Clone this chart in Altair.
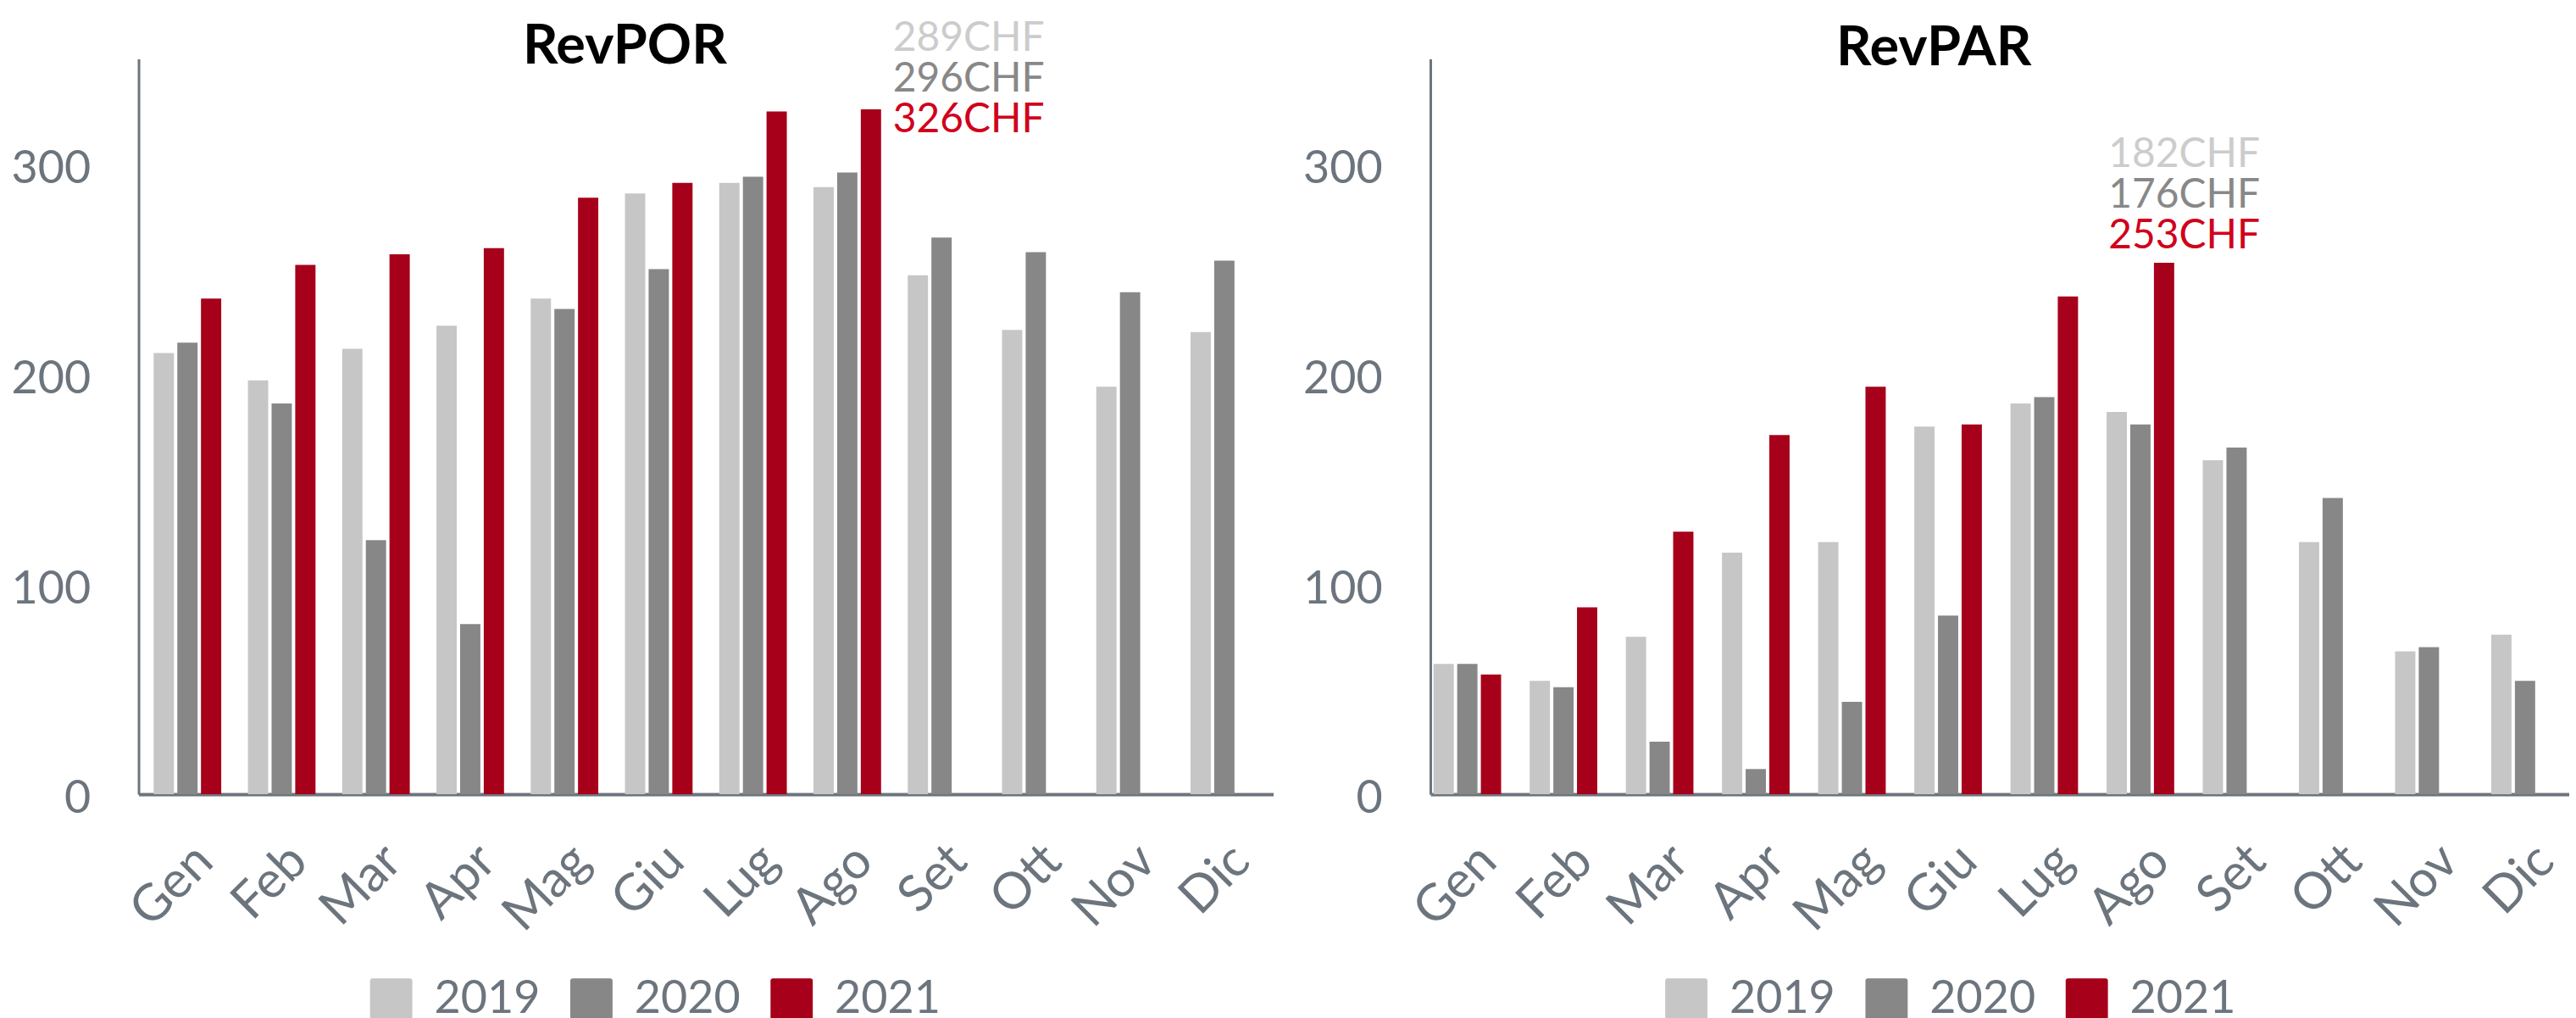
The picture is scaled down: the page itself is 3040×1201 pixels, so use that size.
import altair as alt
import pandas as pd

months = ["Gen", "Feb", "Mar", "Apr", "Mag", "Giu", "Lug", "Ago", "Set", "Ott", "Nov", "Dic"]
years = ["2019", "2020", "2021"]

revpor_2019 = [210, 197, 212, 223, 236, 286, 291, 289, 247, 221, 194, 220]
revpor_2020 = [215, 186, 121, 81, 231, 250, 294, 296, 265, 258, 239, 254]
revpor_2021 = [236, 252, 257, 260, 284, 291, 325, 326, None, None, None, None]

revpar_2019 = [62, 54, 75, 115, 120, 175, 186, 182, 159, 120, 68, 76]
revpar_2020 = [62, 51, 25, 12, 44, 85, 189, 176, 165, 141, 70, 54]
revpar_2021 = [57, 89, 125, 171, 194, 176, 237, 253, None, None, None, None]

y_ticks = [0, 100, 200, 300]
bar_colors = ["#c6c6c6", "#878787", "#a6001a"]
note_colors = ["#cccccc", "#888888", "#d0021b"]
AX = "#6c757d"
FONT = "Lato"
ROUNDED = ("M-0.88,-1H0.88Q1,-1 1,-0.88V0.88Q1,1 0.88,1H-0.88Q-1,1 -1,0.88"
           "V-0.88Q-1,-1 -0.88,-1Z")


def panel(title, series, width, pad_inner, pad_outer, off_pad, title_dx, title_offset,
          note_dx, note_dy0, legend_x):
    rows = []
    for yr, vals in zip(years, series):
        for m, v in zip(months, vals):
            if v is not None:
                rows.append({"month": m, "year": yr, "value": v})
    df = pd.DataFrame(rows)

    x = alt.X("month:N", sort=months, title=None,
              scale=alt.Scale(paddingInner=pad_inner, paddingOuter=pad_outer),
              axis=alt.Axis(labelAngle=-45, labelFont=FONT, labelFontSize=60,
                            labelColor=AX, labelPadding=49, ticks=False,
                            domainColor=AX, domainWidth=4, grid=False))
    y = alt.Y("value:Q", title=None,
              scale=alt.Scale(domain=[0, 350], nice=False),
              axis=alt.Axis(values=y_ticks, ticks=False, labelPadding=57,
                            labelFont=FONT, labelFontSize=54, labelColor=AX,
                            domainColor=AX, domainWidth=3, grid=False, labelOffset=6))

    bars = alt.Chart(df).mark_bar().encode(
        x=x,
        xOffset=alt.XOffset("year:N", scale=alt.Scale(domain=years, paddingInner=off_pad)),
        y=y,
        color=alt.Color("year:N",
                        scale=alt.Scale(domain=years, range=bar_colors),
                        legend=alt.Legend(orient="none", legendX=legend_x, legendY=1086,
                                          direction="horizontal", title=None,
                                          symbolType=ROUNDED, symbolSize=2500,
                                          symbolStrokeWidth=0, symbolOpacity=1,
                                          labelFont=FONT, labelFontSize=54,
                                          labelColor=AX, labelOffset=24,
                                          columnPadding=33)),
    )

    ago = months.index("Ago")
    anchor = series[2][ago]
    layers = [bars]
    for i, vals in enumerate(series):
        ndf = pd.DataFrame({"month": ["Ago"], "value": [anchor],
                            "label": [f"{vals[ago]}CHF"]})
        layers.append(
            alt.Chart(ndf).mark_text(align="left", baseline="alphabetic", font=FONT,
                                     fontSize=48, color=note_colors[i],
                                     dx=note_dx, dy=note_dy0 + 48 * i)
            .encode(x=alt.X("month:N", sort=months), y="value:Q", text="label:N")
        )

    return alt.layer(*layers).properties(
        width=width, height=870,
        title=alt.Title(title, font=FONT, fontSize=65, fontWeight="bold", color="black",
                        anchor="middle", dx=title_dx, baseline="alphabetic",
                        offset=title_offset),
    )


left = panel("RevPOR", [revpor_2019, revpor_2020, revpor_2021], 1343, 0.283, 0.16, 0.143,
             -96, -118, 54, -69, 272)
right = panel("RevPAR", [revpar_2019, revpar_2020, revpar_2021], 1348, 0.222, 0.033, 0.098,
              -78, -72, -42, -113, 276)

chart = (
    alt.hconcat(left, right, spacing=35)
    .resolve_scale(color="independent", x="independent", y="independent")
    .resolve_legend(color="independent")
    .configure_view(stroke=None)
    .properties(padding={"left": 5, "top": 12, "right": 0, "bottom": 0}, background="white")
)

chart.save("out.html", embed_options={"renderer": "svg", "actions": False})
